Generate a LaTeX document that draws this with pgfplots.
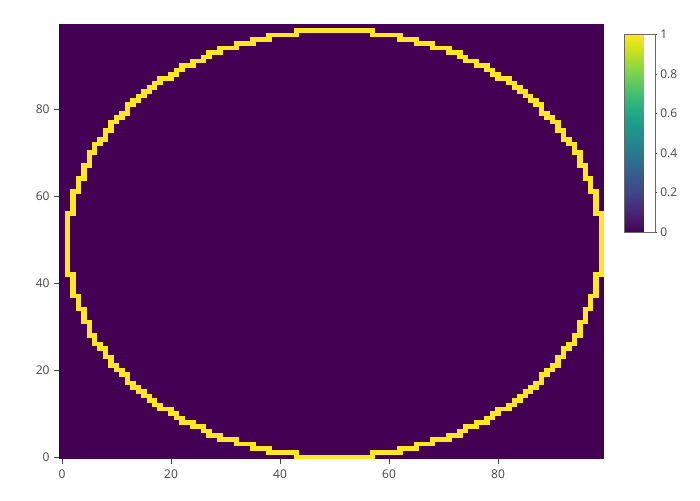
\documentclass[border=0pt]{standalone}
\usepackage{fontspec}
\setmainfont{Open Sans}
\usepackage{pgfplots}
\pgfplotsset{compat=1.18}
\definecolor{vlow}{HTML}{440154}
\definecolor{vhigh}{HTML}{FDE725}
\definecolor{txt}{HTML}{444444}
\begin{document}
\begin{tikzpicture}
\useasboundingbox (0,0) rectangle (525pt,375pt);
\begin{axis}[
  at={(44.48pt,30.6pt)}, anchor=south west,
  scale only axis, width=408.75pt, height=326.25pt,
  xmin=-0.5, xmax=99.5, ymin=-0.5, ymax=99.5,
  axis background/.style={fill=vlow},
  axis line style={draw=none},
  tick align=outside, tick pos=left,
  major tick length=3.75pt,
  xtick={0,20,40,60,80}, ytick={0,20,40,60,80},
  tick style={draw=txt, line width=0.75pt},
  ticklabel style={font=\fontsize{9}{10}\selectfont, text=txt},
  xticklabel style={yshift=-1pt},
  /pgf/number format/assume math mode=true,
  colormap/viridis,
  point meta min=0, point meta max=1,
  colorbar shift/.style={},
  colorbar,
  colorbar style={
    at={(parent axis.north east)}, anchor=north west,
    xshift=15pt, yshift=-7.6pt,
    scale only axis, width=23pt, height=148.5pt,
    ytick={0,0.2,0.4,0.6,0.8,1},
    ytick pos=right,
    yticklabel pos=right,
    tick align=outside, major tick length=1.5pt,
    tick style={draw=txt, line width=0.5pt},
    axis line style={draw=txt!80, line width=0.6pt},
    yticklabel style={font=\fontsize{9}{10}\selectfont, text=txt, xshift=-1pt},
    /pgf/number format/assume math mode=true,
  },
]
\addplot[draw=vhigh, line width=3.45pt, quiver={u=\thisrow{w}, v=0}] table {
x y w
42.5 98 15
37.5 97 6
56.5 97 6
34.5 96 4
61.5 96 4
31.5 95 4
64.5 95 4
28.5 94 4
67.5 94 4
26.5 93 3
70.5 93 3
25.5 92 2
72.5 92 2
23.5 91 3
73.5 91 3
21.5 90 3
75.5 90 3
20.5 89 2
77.5 89 2
19.5 88 2
78.5 88 2
17.5 87 3
79.5 87 3
16.5 86 2
81.5 86 2
15.5 85 2
82.5 85 2
14.5 84 2
83.5 84 2
13.5 83 2
84.5 83 2
12.5 82 2
85.5 82 2
11.5 81 2
86.5 81 2
11.5 80 1
87.5 80 1
10.5 79 2
87.5 79 2
9.5 78 2
88.5 78 2
8.5 77 2
89.5 77 2
8.5 76 1
90.5 76 1
7.5 75 2
90.5 75 2
7.5 74 1
91.5 74 1
6.5 73 2
91.5 73 2
5.5 72 2
92.5 72 2
5.5 71 1
93.5 71 1
4.5 70 2
93.5 70 2
4.5 69 1
94.5 69 1
4.5 68 1
94.5 68 1
3.5 67 2
94.5 67 2
3.5 66 1
95.5 66 1
3.5 65 1
95.5 65 1
2.5 64 2
95.5 64 2
2.5 63 1
96.5 63 1
2.5 62 1
96.5 62 1
1.5 61 2
96.5 61 2
1.5 60 1
97.5 60 1
1.5 59 1
97.5 59 1
1.5 58 1
97.5 58 1
1.5 57 1
97.5 57 1
0.5 56 2
97.5 56 2
0.5 55 1
98.5 55 1
0.5 54 1
98.5 54 1
0.5 53 1
98.5 53 1
0.5 52 1
98.5 52 1
0.5 51 1
98.5 51 1
0.5 50 1
98.5 50 1
0.5 49 1
98.5 49 1
0.5 48 1
98.5 48 1
0.5 47 1
98.5 47 1
0.5 46 1
98.5 46 1
0.5 45 1
98.5 45 1
0.5 44 1
98.5 44 1
0.5 43 1
98.5 43 1
0.5 42 2
97.5 42 2
1.5 41 1
97.5 41 1
1.5 40 1
97.5 40 1
1.5 39 1
97.5 39 1
1.5 38 1
97.5 38 1
1.5 37 2
96.5 37 2
2.5 36 1
96.5 36 1
2.5 35 1
96.5 35 1
2.5 34 2
95.5 34 2
3.5 33 1
95.5 33 1
3.5 32 1
95.5 32 1
3.5 31 2
94.5 31 2
4.5 30 1
94.5 30 1
4.5 29 1
94.5 29 1
4.5 28 2
93.5 28 2
5.5 27 1
93.5 27 1
5.5 26 2
92.5 26 2
6.5 25 2
91.5 25 2
7.5 24 1
91.5 24 1
7.5 23 2
90.5 23 2
8.5 22 1
90.5 22 1
8.5 21 2
89.5 21 2
9.5 20 2
88.5 20 2
10.5 19 2
87.5 19 2
11.5 18 1
87.5 18 1
11.5 17 2
86.5 17 2
12.5 16 2
85.5 16 2
13.5 15 2
84.5 15 2
14.5 14 2
83.5 14 2
15.5 13 2
82.5 13 2
16.5 12 2
81.5 12 2
17.5 11 3
79.5 11 3
19.5 10 2
78.5 10 2
20.5 9 2
77.5 9 2
21.5 8 3
75.5 8 3
23.5 7 3
73.5 7 3
25.5 6 2
72.5 6 2
26.5 5 3
70.5 5 3
28.5 4 4
67.5 4 4
31.5 3 4
64.5 3 4
34.5 2 4
61.5 2 4
37.5 1 6
56.5 1 6
42.5 0 15
};
\end{axis}
\end{tikzpicture}
\end{document}
